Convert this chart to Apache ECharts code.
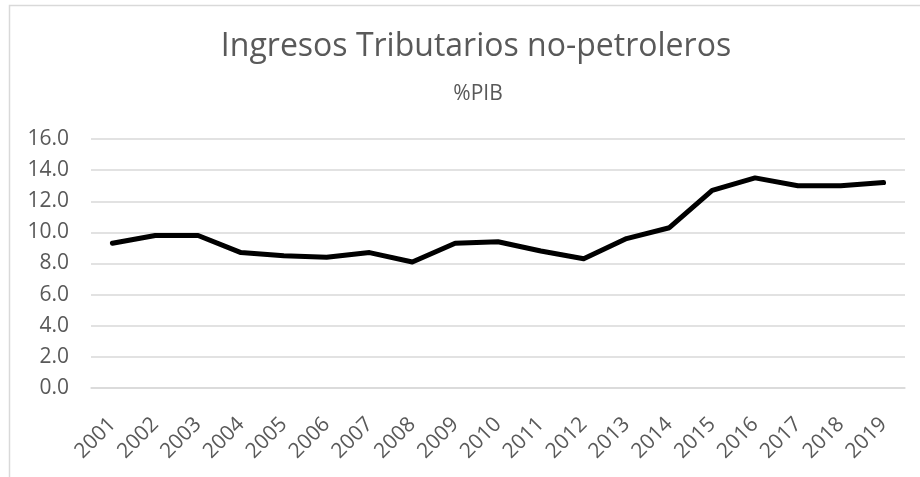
<!DOCTYPE html>
<html>
<head>
<meta charset="utf-8">
<script src="https://cdn.jsdelivr.net/npm/echarts@6/dist/echarts.min.js"></script>
<style>
  html, body { margin: 0; padding: 0; background: #fff; }
  #main { width: 920px; height: 477px; }
</style>
</head>
<body>
<div id="main"></div>
<script>
// datos: ingresos tributarios no petroleros, % del PIB
var years = ['2001','2002','2003','2004','2005','2006','2007','2008','2009','2010',
             '2011','2012','2013','2014','2015','2016','2017','2018','2019'];
var ingresos = [9.3, 9.8, 9.8, 8.7, 8.5, 8.4, 8.7, 8.1, 9.3, 9.4,
                8.8, 8.3, 9.6, 10.3, 12.7, 13.5, 13.0, 13.0, 13.2];
var yTicks = [0, 2, 4, 6, 8, 10, 12, 14, 16];

var gris = '#595959';
var chart = echarts.init(document.getElementById('main'));
var option = {
  backgroundColor: '#fff',
  animation: false,
  title: [
    {
      text: 'Ingresos Tributarios no-petroleros',
      left: 471, top: 26, textAlign: 'center',
      textStyle: { color: gris, fontFamily: 'Open Sans', fontSize: 32, fontWeight: 'normal' }
    },
    {
      text: '%PIB',
      left: 473, top: 79, textAlign: 'center',
      textStyle: { color: gris, fontFamily: 'Open Sans', fontSize: 21, fontWeight: 'normal' }
    }
  ],
  graphic: [{
    type: 'rect',
    shape: { x: 9.5, y: 5.5, width: 1000, height: 1000 },
    style: { fill: 'none', stroke: '#d9d9d9', lineWidth: 1.5 },
    silent: true
  }],
  grid: { left: 91, right: 15, top: 139, bottom: 89 },
  xAxis: {
    type: 'category',
    data: years,
    boundaryGap: true,
    axisLine: { lineStyle: { color: '#d9d9d9', width: 1.5 } },
    axisTick: { show: false },
    axisLabel: {
      rotate: 45, margin: 33, interval: 0,
      color: gris, fontFamily: 'Open Sans', fontSize: 21
    }
  },
  yAxis: {
    type: 'value',
    min: yTicks[0], max: yTicks[yTicks.length - 1], interval: 2,
    axisLine: { show: false },
    axisTick: { show: false },
    splitLine: { lineStyle: { color: '#d9d9d9', width: 1.5 } },
    axisLabel: {
      margin: 22, color: gris, fontFamily: 'Open Sans', fontSize: 21,
      formatter: function (v) { return v.toFixed(1); }
    }
  },
  series: [{
    type: 'line',
    data: ingresos,
    symbol: 'none',
    lineStyle: { color: '#000', width: 5, join: 'round', cap: 'round' }
  }]
};
chart.setOption(option);
</script>
</body>
</html>
